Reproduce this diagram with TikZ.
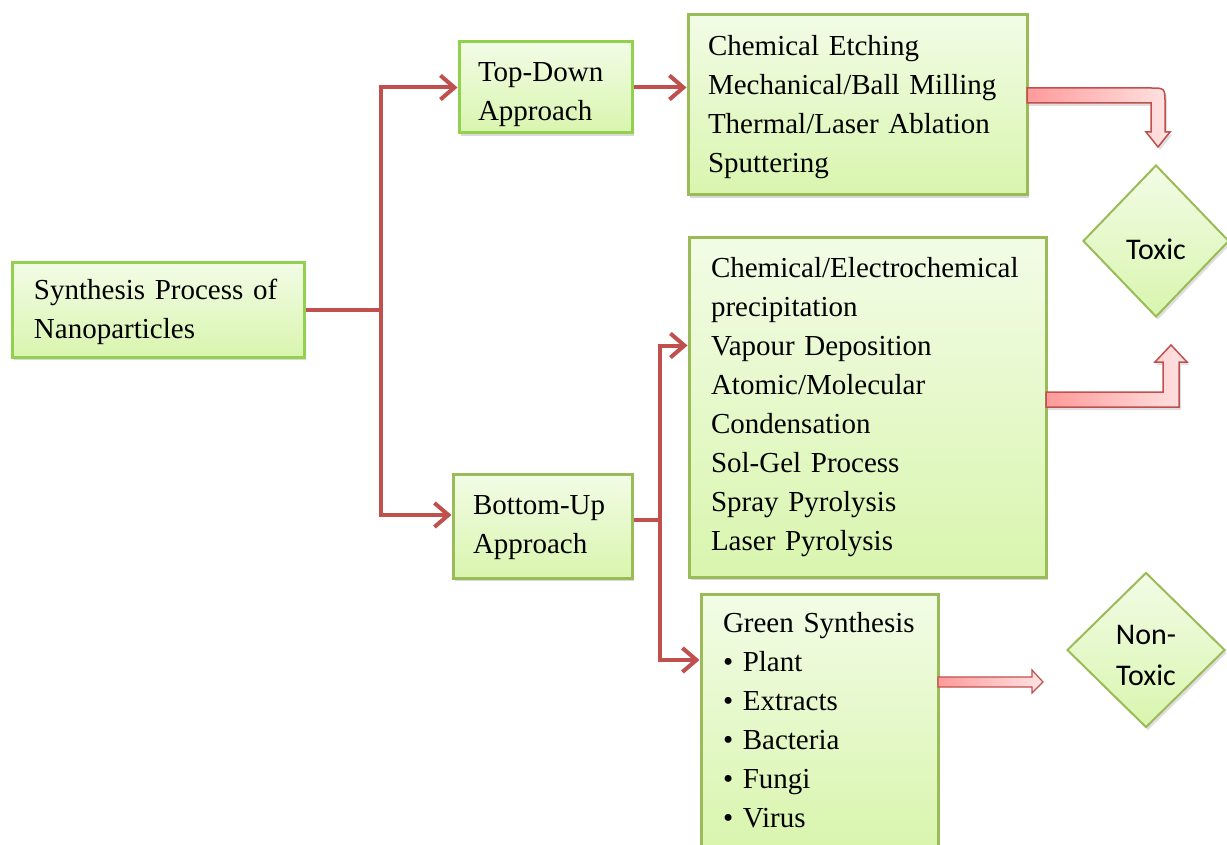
\documentclass[tikz,border=0pt]{standalone}
\usepackage{fontspec}
\setmainfont{Liberation Serif}
\newfontfamily\calibrifont{Carlito}
\usetikzlibrary{arrows.meta,shapes.geometric,shadows}
\hyphenpenalty=10000
\exhyphenpenalty=10000
\definecolor{boxline}{HTML}{9BBB59}
\definecolor{brightline}{HTML}{92D050}
\definecolor{boxtop}{HTML}{F2FCE6}
\definecolor{boxbot}{HTML}{D9F5AE}
\definecolor{conn}{HTML}{C0504D}
\definecolor{pinkA}{HTML}{FF9A9A}
\definecolor{pinkB}{HTML}{FFE3E3}
\newcommand{\lowered}[2]{\raisebox{-#1}[\height][\depth]{#2}}
\begin{document}
\begin{tikzpicture}[x=1pt,y=-1pt,
	box/.style={draw=boxline,line width=3pt,top color=boxtop,bottom color=boxbot,
		drop shadow={opacity=0.3,shadow xshift=2pt,shadow yshift=-3pt},
		align=left,inner ysep=0pt,font=\fontsize{29}{39}\selectfont},
	dia/.style={diamond,draw=boxline,line width=2pt,top color=boxtop,bottom color=boxbot,
		drop shadow={opacity=0.25,shadow xshift=2pt,shadow yshift=-3pt},
		inner sep=0pt,align=center,font=\calibrifont\fontsize{30}{41}\selectfont},
	conline/.style={draw=conn,line width=4pt,-{Straight Barb[length=14pt,width=24pt,line width=4pt]}},
	fat/.style={draw=conn,line width=1.5pt,left color=pinkA,right color=pinkB}]
	\clip (0,0) rectangle (1227,845);
	\useasboundingbox (0,0) rectangle (1227,845);
	\node[box,draw=brightline,inner xsep=22pt,text width=248pt,minimum height=94pt] (synth) at (158,310) {\lowered{2pt}{Synthesis Process of}\\\lowered{2pt}{Nanoparticles}};
	\node[box,draw=brightline,inner xsep=19pt,text width=135pt,minimum height=91pt] (topdown) at (545.5,87.5) {\lowered{7pt}{Top-Down}\\\lowered{7pt}{Approach}};
	\node[box,inner xsep=20pt,text width=299pt,minimum height=180pt] (topm) at (857.5,105) {\lowered{2pt}{Chemical Etching}\\\lowered{2pt}{Mechanical/Ball Milling}\\\lowered{2pt}{Thermal/Laser Ablation}\\\lowered{2pt}{Sputtering}};
	\node[box,inner xsep=20pt,text width=139pt,minimum height=104pt] (bottomup) at (542.5,526) {\lowered{2pt}{Bottom-Up}\\\lowered{2pt}{Approach}};
	\node[box,inner xsep=22pt,text width=313pt,minimum height=339pt] (chem) at (867.5,407.5) {Chemical/Electrochemical\\precipitation\\Vapour Deposition\\Atomic/Molecular\\Condensation\\Sol-Gel Process\\Spray Pyrolysis\\Laser Pyrolysis};
	\node[box,inner xsep=22pt,text width=193pt,minimum height=252pt] (green) at (819.5,720) {Green Synthesis\\\textbullet\ Plant\\\textbullet\ Extracts\\\textbullet\ Bacteria\\\textbullet\ Fungi\\\textbullet\ Virus};
	\node[dia,minimum width=146pt,minimum height=152pt] (toxic) at (1156,241) {\lowered{8pt}{Toxic}};
	\node[dia,minimum width=158pt,minimum height=155pt] (nontoxic) at (1146,650) {\lowered{5pt}{Non-}\\\lowered{5pt}{Toxic}};
	\coordinate (split1) at (381,310);
	\coordinate (split2) at (660,520);
	\draw[draw=conn,line width=4pt] (synth.east) -- (split1);
	\draw[conline] (split1) |- (topdown.west);
	\draw[conline] (split1) |- ([yshift=11pt]bottomup.west);
	\draw[conline] (topdown.east) -- (topdown.east -| topm.west);
	\draw[draw=conn,line width=4pt] ([yshift=6pt]bottomup.east) -- (split2);
	\draw[conline] (split2) |- ([yshift=62pt]chem.west);
	\draw[conline] (split2) |- ([yshift=60pt]green.west);
	\draw[fat,drop shadow={opacity=0.25,shadow xshift=2pt,shadow yshift=-3pt}] (1027,88) -- (1150,88) .. controls (1165,88) .. (1165,103) -- (1165,132) -- (1170,132) -- (1158,147) -- (1146,132) -- (1151,132) -- (1151,103) -- (1027,103) -- cycle;
	\draw[fat,drop shadow={opacity=0.25,shadow xshift=2pt,shadow yshift=-3pt}] (1046,392) -- (1163,392) -- (1163,362) -- (1155,362) -- (1171,345) -- (1187,362) -- (1179,362) -- (1179,407) -- (1046,407) -- cycle;
	\draw[fat,line width=1.2pt] (938,677) -- (1032,677) -- (1032,670) -- (1043,682) -- (1032,693) -- (1032,687) -- (938,687) -- cycle;
\end{tikzpicture}
\end{document}
